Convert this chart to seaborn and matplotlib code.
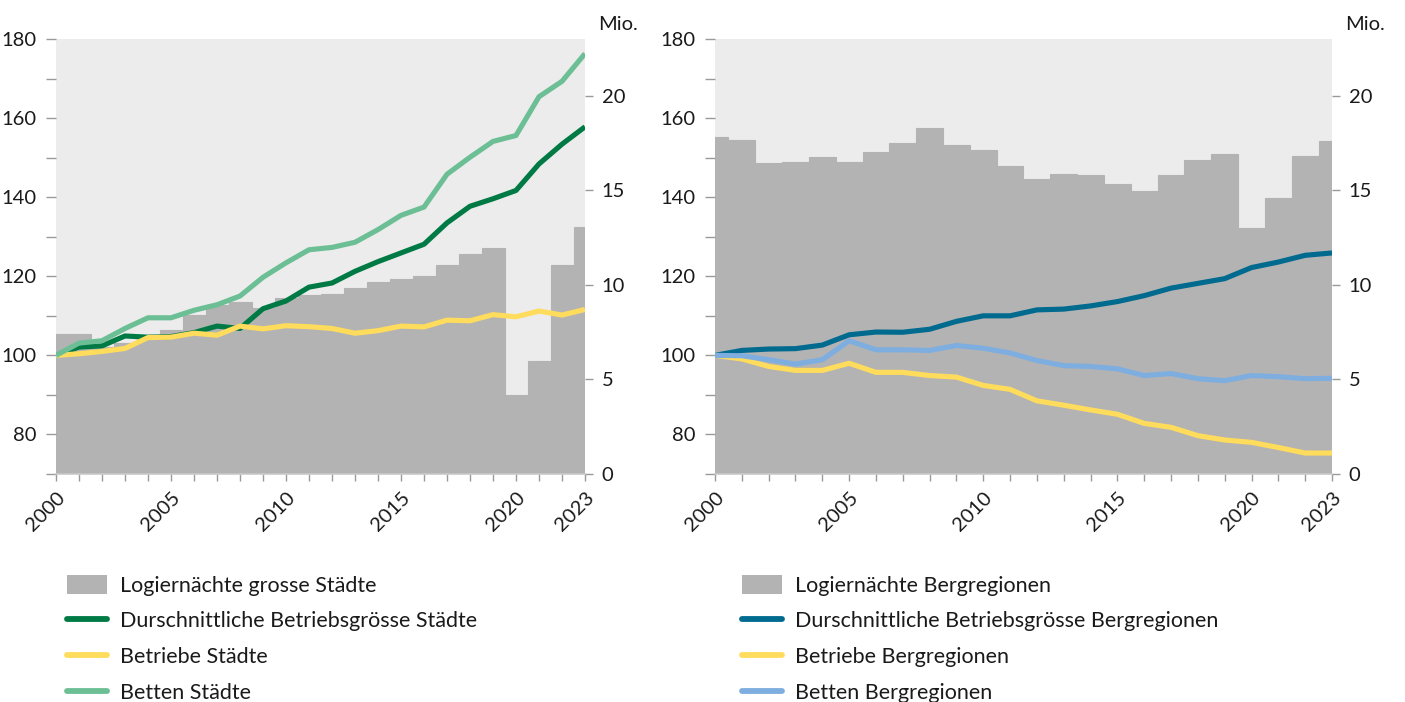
import matplotlib
matplotlib.use("Agg")
import matplotlib.pyplot as plt
from matplotlib.patches import Patch
from matplotlib.lines import Line2D
from matplotlib.ticker import FixedLocator
from matplotlib.transforms import offset_copy
import seaborn as sns

sns.set_theme(style="white")
plt.rcParams['font.family'] = ['Lato', 'DejaVu Sans']

years = list(range(2000, 2024))
xtick_labels = [2000, 2005, 2010, 2015, 2020, 2023]

# ---- Left panel: grosse Städte ----
logier_staedte = [7.38, 7.38, 6.70, 6.95, 7.35, 7.60, 8.41, 8.94, 9.07, 8.77, 9.30, 9.47,
                  9.52, 9.84, 10.16, 10.30, 10.45, 11.05, 11.63, 11.97, 4.20, 6.00, 11.05, 13.05]
groesse_staedte = [100, 102.1, 102.4, 104.9, 104.6, 104.75, 105.75, 107.4, 106.8, 111.8, 113.75, 117.25,
                   118.3, 121.25, 123.7, 125.9, 128.1, 133.5, 137.7, 139.6, 141.7, 148.4, 153.4, 157.8]
betriebe_staedte = [100, 100.4, 101.0, 101.75, 104.5, 104.6, 105.6, 105.1, 107.4, 106.7, 107.5, 107.25,
                    106.8, 105.6, 106.25, 107.4, 107.2, 108.9, 108.75, 110.3, 109.75, 111.2, 110.2, 111.6]
betten_staedte = [100, 103.1, 103.7, 106.8, 109.5, 109.5, 111.4, 112.8, 115.0, 119.75, 123.4, 126.7,
                  127.3, 128.6, 131.8, 135.4, 137.5, 145.8, 150.1, 154.1, 155.6, 165.4, 169.3, 176.3]

# ---- Right panel: Bergregionen ----
logier_berg = [17.82, 17.66, 16.44, 16.50, 16.76, 16.50, 17.04, 17.50, 18.29, 17.39, 17.15, 16.30,
               15.60, 15.86, 15.81, 15.35, 14.95, 15.81, 16.60, 16.90, 12.99, 14.60, 16.81, 17.60]
groesse_berg = [100, 101.25, 101.6, 101.7, 102.6, 105.2, 105.9, 105.85, 106.6, 108.6, 110.0, 110.0,
                111.5, 111.7, 112.5, 113.6, 115.1, 117.0, 118.2, 119.4, 122.2, 123.6, 125.3, 125.9]
betriebe_berg = [100, 99.1, 97.2, 96.2, 96.2, 98.0, 95.7, 95.7, 94.9, 94.5, 92.4, 91.4,
                 88.5, 87.4, 86.2, 85.1, 82.8, 81.8, 79.7, 78.6, 78.0, 76.7, 75.3, 75.3]
betten_berg = [100, 99.9, 98.9, 97.8, 98.9, 103.7, 101.4, 101.4, 101.25, 102.5, 101.8, 100.6,
               98.7, 97.4, 97.2, 96.6, 94.9, 95.4, 94.1, 93.6, 94.9, 94.6, 94.1, 94.2]

labels_left = ["Logiernächte grosse Städte", "Durschnittliche Betriebsgrösse Städte",
               "Betriebe Städte", "Betten Städte"]
labels_right = ["Logiernächte Bergregionen", "Durschnittliche Betriebsgrösse Bergregionen",
                "Betriebe Bergregionen", "Betten Bergregionen"]

BG = "#ececec"
BAR = "#b3b3b3"
DGREEN = "#007a45"
LGREEN = "#6cbf95"
YELLOW = "#ffdc5c"
DBLUE = "#006a8f"
LBLUE = "#7eaee0"
TICKC = "#9a9a9a"
TXT = "#1a1a1a"
FS = 14.5
LFS = 15.5
LW = 3.7

W, H = 1405, 702
fig = plt.figure(figsize=(W / 100, H / 100), dpi=100)


def make_panel(x0, x1, bars, lines, colors, labels, legend_x):
    ax = fig.add_axes([x0 / W, 1 - 474 / H, (x1 - x0) / W, (474 - 39) / H])
    ax.set_facecolor(BG)
    sns.barplot(x=years, y=bars, native_scale=True, width=1.0, color=BAR,
                saturation=1, linewidth=0.8, edgecolor=BAR, ax=ax, zorder=1)
    ax.set_ylim(0, 23)
    ax.set_xlim(2000, 2023)
    ax.set_ylabel("")
    ax.set_xlabel("")
    for s in ax.spines.values():
        s.set_visible(False)

    axl = ax.twinx()
    for y, c in zip(lines, colors):
        sns.lineplot(x=years, y=y, color=c, linewidth=LW, ax=axl, solid_capstyle="butt")
    axl.set_ylim(70, 180)
    axl.set_xlim(2000, 2023)
    axl.yaxis.tick_left()
    axl.yaxis.set_major_locator(FixedLocator([80, 100, 120, 140, 160, 180]))
    axl.yaxis.set_minor_locator(FixedLocator([70, 90, 110, 130, 150, 170]))
    axl.set_ylabel("")
    for s in axl.spines.values():
        s.set_visible(False)
    axl.spines['bottom'].set_visible(True)
    axl.spines['bottom'].set_color("#c8c8c8")
    axl.spines['bottom'].set_linewidth(1.2)

    # bars axis: ticks on the right (after twinx, which resets them)
    ax.yaxis.tick_right()
    ax.yaxis.set_major_locator(FixedLocator([0, 5, 10, 15, 20]))

    ax.set_xticks(years)
    ax.set_xticklabels([str(y) if y in xtick_labels else "" for y in years],
                       rotation=45, ha="right", va="top", rotation_mode="anchor")
    ax.tick_params(axis="x", which="major", bottom=True, length=5, width=1, color=TICKC,
                   labelsize=FS, labelcolor=TXT, pad=6)
    ax.tick_params(axis="y", which="major", right=True, left=False, labelleft=False,
                   labelright=True, length=6, width=1,
                   color=TICKC, labelsize=FS, labelcolor=TXT, pad=6)
    axl.tick_params(axis="y", which="both", left=True, right=False, labelleft=True,
                    labelright=False, length=7, width=1,
                    color=TICKC, labelsize=FS, labelcolor=TXT, pad=7)
    axl.tick_params(axis="x", bottom=False, labelbottom=False)
    ax.set_zorder(1)
    axl.set_zorder(2)

    tr = offset_copy(ax.transAxes, fig=fig, x=13, y=0, units="dots")
    ax.text(1.0, 1.033, "Mio.", transform=tr, ha="left", va="center",
            fontsize=FS, color=TXT)
    if ax.get_legend():
        ax.get_legend().remove()
    if axl.get_legend():
        axl.get_legend().remove()

    handles = [Patch(facecolor=BAR, edgecolor="none")] + \
              [Line2D([0], [0], color=c, linewidth=4.2) for c in colors]
    fig.legend(handles, labels, loc="upper left",
               bbox_to_anchor=(legend_x / W, 1 - 575 / H), frameon=False,
               fontsize=LFS, labelspacing=0.70, handlelength=1.85, handleheight=0.95,
               handletextpad=0.6, borderpad=0, borderaxespad=0, labelcolor=TXT)
    return ax, axl


make_panel(56, 585, logier_staedte,
           [groesse_staedte, betriebe_staedte, betten_staedte],
           [DGREEN, YELLOW, LGREEN], labels_left, 67)
make_panel(715, 1332, logier_berg,
           [groesse_berg, betriebe_berg, betten_berg],
           [DBLUE, YELLOW, LBLUE], labels_right, 742)

fig.savefig("out.png", dpi=100, facecolor="white")
